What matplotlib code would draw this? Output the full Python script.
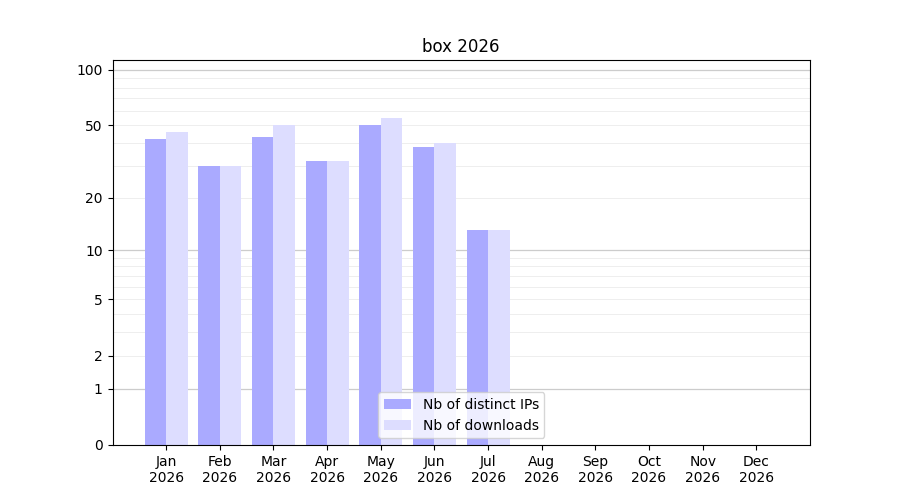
import numpy as np
import matplotlib
matplotlib.use("Agg")
import matplotlib.pyplot as plt

months = ["Jan", "Feb", "Mar", "Apr", "May", "Jun", "Jul", "Aug", "Sep", "Oct", "Nov", "Dec"]
year = "2026"
distinct_ips = [42, 30, 43, 32, 50, 38, 13, 0, 0, 0, 0, 0]
downloads = [46, 30, 50, 32, 55, 40, 13, 0, 0, 0, 0, 0]
yticks = [0, 1, 2, 5, 10, 20, 50, 100]

fig, ax = plt.subplots(figsize=(9, 5), dpi=100)
fig.subplots_adjust(left=0.125, right=0.9, top=0.88, bottom=0.11)

ax.set_yscale("function", functions=(lambda v: np.log10(1 + np.clip(v, 0, None)),
                                     lambda v: 10 ** v - 1))
x = np.arange(len(months))
ax.bar(x - 0.2, distinct_ips, width=0.4, color="#aaaaff", label="Nb of distinct IPs", zorder=2)
ax.bar(x + 0.2, downloads, width=0.4, color="#ddddff", label="Nb of downloads", zorder=2)

for v in [1, 10, 100]:
    ax.axhline(v, color="#cccccc", lw=0.9, zorder=1)
for v in list(range(2, 10)) + list(range(20, 100, 10)):
    ax.axhline(v, color="#eeeeee", lw=0.7, zorder=1)

ax.set_yticks(yticks)
ax.set_yticklabels([str(t) for t in yticks])
ax.minorticks_off()
ax.set_ylim(0, 113)
ax.set_xlim(-1, 12)
ax.set_xticks(x)
ax.set_xticklabels([f"{m}\n{year}" for m in months])
ax.set_title("box 2026")
ax.legend(loc="lower center")
fig.savefig("out.png")
